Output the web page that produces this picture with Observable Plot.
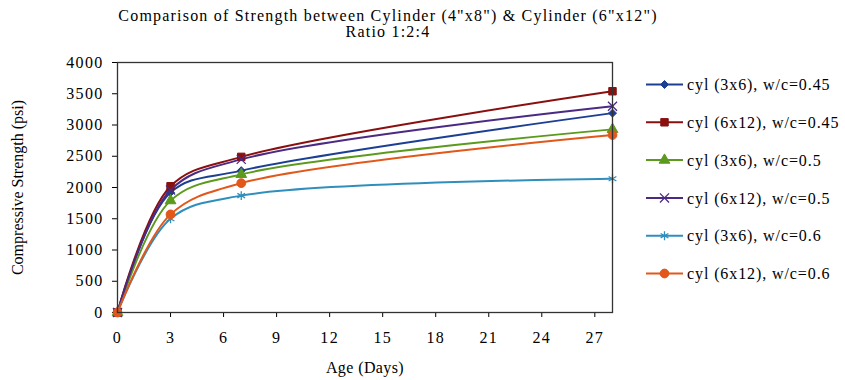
<!DOCTYPE html>
<html>
<head>
<meta charset="utf-8">
<script src="https://cdn.jsdelivr.net/npm/d3@7"></script>
<script src="https://cdn.jsdelivr.net/npm/@observablehq/plot@0.6"></script>
<style>
  body { margin: 0; background: #fff; }
  #wrap { position: relative; width: 845px; height: 380px; font-family: "Liberation Serif", "Times New Roman", serif; color: #000; }
  #title { position: absolute; left: 0; top: 8px; width: 776px; text-align: center; font-size: 16px; line-height: 16px; letter-spacing: 1.2px; }
  #chart { position: absolute; left: 0; top: 0; }
  #chart svg text { letter-spacing: 1.3px; }
  #chart svg g[aria-label="x-axis label"] text { letter-spacing: 0.4px; }
  #chart svg g[aria-label="y-axis label"] text { letter-spacing: 0px; }
  #legend { position: absolute; left: 0; top: 0; pointer-events: none; }
  #legend text { letter-spacing: 0.9px; }
</style>
</head>
<body>
<div id="wrap">
  <div id="chart"></div>
  <div id="title">Comparison of Strength between Cylinder (4"x8") &amp; Cylinder (6"x12")<br>Ratio 1:2:4</div>
  <svg id="legend" width="845" height="380"></svg>
</div>
<script>
// ---- data ----
const days = [0, 3, 7, 28];
const seriesNames = [
  "cyl (3x6), w/c=0.45",
  "cyl (6x12), w/c=0.45",
  "cyl (3x6), w/c=0.5",
  "cyl (6x12), w/c=0.5",
  "cyl (3x6), w/c=0.6",
  "cyl (6x12), w/c=0.6"
];
const cyl3x6_045  = [0, 1920, 2270, 3190];
const cyl6x12_045 = [0, 2020, 2490, 3540];
const cyl3x6_050  = [0, 1790, 2210, 2930];
const cyl6x12_050 = [0, 1960, 2450, 3300];
const cyl3x6_060  = [0, 1500, 1870, 2140];
const cyl6x12_060 = [0, 1570, 2070, 2840];
const xTicks = [0, 3, 6, 9, 12, 15, 18, 21, 24, 27];
const yTicks = [0, 500, 1000, 1500, 2000, 2500, 3000, 3500, 4000];

// ---- styling ----
const colors  = ["#1c3f94", "#8a1010", "#5b9a1c", "#4b2a84", "#2f8fbc", "#e2571a"];
const symbols = ["diamond2", "square", "triangle", "times", "asterisk", "circle"];
const radii   = [3.6, 4.2, 4.0, 4.2, 4.2, 4.4];

const valueLists = [cyl3x6_045, cyl6x12_045, cyl3x6_050, cyl6x12_050, cyl3x6_060, cyl6x12_060];
const rows = [];
seriesNames.forEach((name, i) => {
  days.forEach((d, j) => rows.push({series: name, idx: i, day: d, psi: valueLists[i][j]}));
});

const marks = [];
seriesNames.forEach((name, i) => {
  const data = rows.filter(r => r.idx === i);
  marks.push(Plot.line(data, {x: "day", y: "psi", stroke: colors[i], strokeWidth: 2, curve: "catmull-rom"}));
});
seriesNames.forEach((name, i) => {
  const data = rows.filter(r => r.idx === i);
  const strokeOnly = symbols[i] === "times" || symbols[i] === "asterisk";
  marks.push(Plot.dot(data, {
    x: "day", y: "psi", symbol: () => symbols[i], r: radii[i],
    fill: strokeOnly ? "none" : colors[i], stroke: colors[i], strokeWidth: strokeOnly ? 1.3 : 1
  }));
});
marks.push(Plot.frame({stroke: "#333", strokeWidth: 1.3}));

const chart = Plot.plot({
  width: 845,
  height: 380,
  marginLeft: 117,
  marginRight: 233,
  marginTop: 62,
  marginBottom: 68,
  style: {fontFamily: '"Liberation Serif", "Times New Roman", serif', fontSize: "16px", color: "#000", background: "#fff"},
  symbol: {type: "identity"},
  x: {domain: [0, 28], ticks: xTicks, tickFormat: d3.format("d"), tickSize: 5, tickPadding: 14, label: "Age (Days)", labelAnchor: "center", labelOffset: 60, labelArrow: "none"},
  y: {domain: [0, 4000], ticks: yTicks, tickFormat: d3.format("d"), tickSize: 5, tickPadding: 9, label: "Compressive Strength (psi)", labelAnchor: "center", labelOffset: 106, labelArrow: "none"},
  marks
});
document.getElementById("chart").appendChild(chart);

// ---- legend ----
const leg = d3.select("#legend");
const symMap = {diamond2: d3.symbolDiamond2, square: d3.symbolSquare, triangle: d3.symbolTriangle, times: d3.symbolTimes, asterisk: d3.symbolAsterisk, circle: d3.symbolCircle};
seriesNames.forEach((name, i) => {
  const y = 84.5 + i * 37.8;
  const g = leg.append("g");
  g.append("line").attr("x1", 646).attr("x2", 683).attr("y1", y).attr("y2", y).attr("stroke", colors[i]).attr("stroke-width", 2);
  const strokeOnly = symbols[i] === "times" || symbols[i] === "asterisk";
  g.append("path")
    .attr("d", d3.symbol(symMap[symbols[i]], Math.PI * radii[i] * radii[i])())
    .attr("transform", `translate(664.5,${y})`)
    .attr("fill", strokeOnly ? "none" : colors[i])
    .attr("stroke", colors[i]).attr("stroke-width", strokeOnly ? 1.3 : 1);
  g.append("text").attr("x", 687).attr("y", y).attr("dy", "0.35em")
    .attr("font-family", '"Liberation Serif", "Times New Roman", serif').attr("font-size", "16px")
    .attr("fill", "#000").text(name);
});
</script>
</body>
</html>
